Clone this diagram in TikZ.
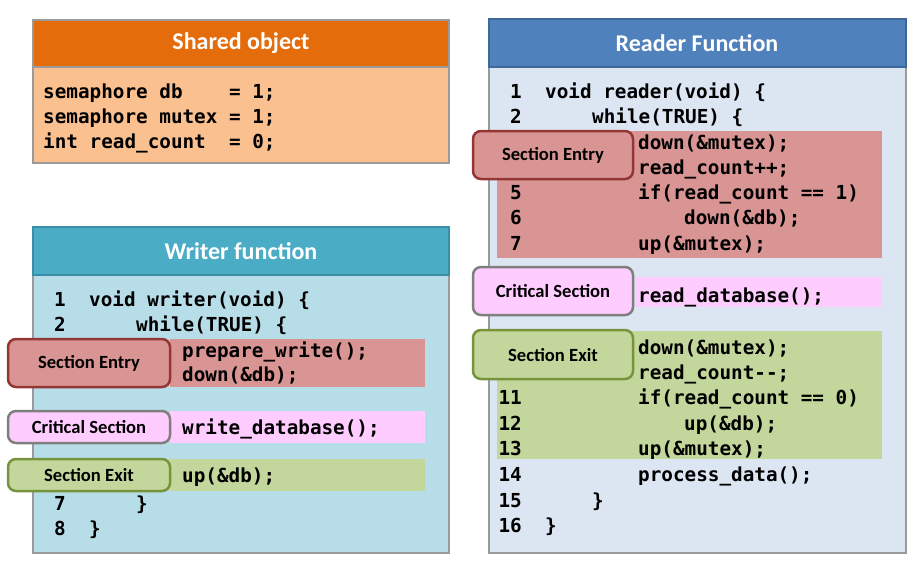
\documentclass[tikz,border=0pt]{standalone}
\usepackage{fontspec}
\setmainfont{Carlito}
\newfontfamily\codefont{DejaVu Sans Mono}
\definecolor{shHead}{HTML}{E46C0A}
\definecolor{shBody}{HTML}{FAC090}
\definecolor{wrHead}{HTML}{4BACC6}
\definecolor{wrHeadB}{HTML}{3A8FA6}
\definecolor{wrBody}{HTML}{B7DEE8}
\definecolor{rdHead}{HTML}{4F81BD}
\definecolor{rdHeadB}{HTML}{3F6797}
\definecolor{rdBody}{HTML}{DCE6F2}
\definecolor{boxB}{HTML}{9A9A9A}
\definecolor{entryF}{HTML}{D99594}
\definecolor{entryB}{HTML}{943634}
\definecolor{critF}{HTML}{FFCCFF}
\definecolor{critB}{HTML}{7F7F7F}
\definecolor{exitF}{HTML}{C3D69B}
\definecolor{exitB}{HTML}{77933C}
\tikzset{
  hdrtext/.style={text=white, font=\fontsize{24}{28}\selectfont\bfseries, inner sep=0pt},
  bodybox/.style={draw=boxB, line width=1.5pt},
  lbl/.style={rounded corners=8pt, line width=2.5pt},
  lbltext/.style={font=\fontsize{18.6}{22}\selectfont\bfseries, inner sep=0pt},
  code/.style={anchor=base west, inner sep=0pt, font=\codefont\bfseries\fontsize{19.3}{23}\selectfont},
  num/.style={anchor=base east, inner sep=0pt, font=\codefont\bfseries\fontsize{19.3}{23}\selectfont},
}
\begin{document}
\begin{tikzpicture}[x=1pt,y=-1pt]
\path[use as bounding box, fill=white] (0,0) rectangle (919,566);
% ---------- Shared object ----------
\draw[bodybox, fill=shBody] (33,67) rectangle (449,163);
\draw[line width=1.5pt, draw=boxB, fill=shHead] (33,20) rectangle (449,67);
\node[hdrtext] (shT) at (241,43) {Shared object};
\node[code] (sh1) at (43,98) {semaphore~db~~~~=~1;};
\node[code] (sh2) at (43,123) {semaphore~mutex~=~1;};
\node[code] (sh3) at (43,148) {int~read\_count~~=~0;};
% ---------- Writer function ----------
\draw[bodybox, fill=wrBody] (33,275) rectangle (449,553);
\draw[line width=1.5pt, draw=wrHeadB, fill=wrHead] (33,227) rectangle (449,275);
\node[hdrtext] (wrT) at (241,251) {Writer function};
\fill[entryF] (170,339) rectangle (425,387);
\fill[critF] (170,411) rectangle (425,443);
\fill[exitF] (170,459) rectangle (425,491);
\node[num] (wn1) at (66,306) {1};
\node[code] (wc1) at (89,306) {void writer(void) \{};
\node[num] (wn2) at (66,331) {2};
\node[code] (wc2) at (136,331) {while(TRUE) \{};
\node[code] (wc3) at (182,357) {prepare\_write();};
\node[code] (wc4) at (182,381) {down(\&db);};
\node[code] (wc5) at (182,434) {write\_database();};
\node[code] (wc6) at (182,482) {up(\&db);};
\node[num] (wn7) at (66,510) {7};
\node[code] (wc7) at (136,510) {\}};
\node[num] (wn8) at (66,535) {8};
\node[code] (wc8) at (89,535) {\}};
\draw[lbl, draw=entryB, fill=entryF] (8,339) rectangle (170,387);
\node[lbltext] (wlE) at (89,363) {Section Entry};
\draw[lbl, draw=critB, fill=critF] (8,411) rectangle (170,443);
\node[lbltext] (wlC) at (89,427) {Critical Section};
\draw[lbl, draw=exitB, fill=exitF] (8,459) rectangle (170,491);
\node[lbltext] (wlX) at (89,475) {Section Exit};
% ---------- Reader function ----------
\draw[bodybox, fill=rdBody] (489,67) rectangle (906,553);
\draw[line width=1.5pt, draw=rdHeadB, fill=rdHead] (489,19) rectangle (906,67);
\node[hdrtext] (rdT) at (697,43) {Reader Function};
\fill[entryF] (497,131) rectangle (882,258);
\fill[critF] (635,277) rectangle (882,307);
\fill[exitF] (497,331) rectangle (882,459);
\node[num] (rn1) at (522,98) {1};
\node[code] (rc1) at (545,98) {void reader(void) \{};
\node[num] (rn2) at (522,123) {2};
\node[code] (rc2) at (592,123) {while(TRUE) \{};
\node[code] (rc3) at (638,149) {down(\&mutex);};
\node[code] (rc4) at (638,174) {read\_count++;};
\node[num] (rn5) at (522,199) {5};
\node[code] (rc5) at (638,199) {if(read\_count == 1)};
\node[num] (rn6) at (522,224) {6};
\node[code] (rc6) at (684,224) {down(\&db);};
\node[num] (rn7) at (522,250) {7};
\node[code] (rc7) at (638,250) {up(\&mutex);};
\node[code] (rc8) at (638,302) {read\_database();};
\node[code] (rc9) at (638,354) {down(\&mutex);};
\node[code] (rc10) at (638,379) {read\_count-{}-;};
\node[num] (rn11) at (522,404) {11};
\node[code] (rc11) at (638,404) {if(read\_count == 0)};
\node[num] (rn12) at (522,430) {12};
\node[code] (rc12) at (684,430) {up(\&db);};
\node[num] (rn13) at (522,455) {13};
\node[code] (rc13) at (638,455) {up(\&mutex);};
\node[num] (rn14) at (522,481) {14};
\node[code] (rc14) at (638,481) {process\_data();};
\node[num] (rn15) at (522,507) {15};
\node[code] (rc15) at (592,507) {\}};
\node[num] (rn16) at (522,532) {16};
\node[code] (rc16) at (545,532) {\}};
\draw[lbl, draw=entryB, fill=entryF] (473,131) rectangle (633,179);
\node[lbltext] (rlE) at (553,155) {Section Entry};
\draw[lbl, draw=critB, fill=critF] (473,267) rectangle (633,315);
\node[lbltext] (rlC) at (553,291) {Critical Section};
\draw[lbl, draw=exitB, fill=exitF] (473,330) rectangle (633,379);
\node[lbltext] (rlX) at (553,355) {Section Exit};
\end{tikzpicture}
\end{document}
